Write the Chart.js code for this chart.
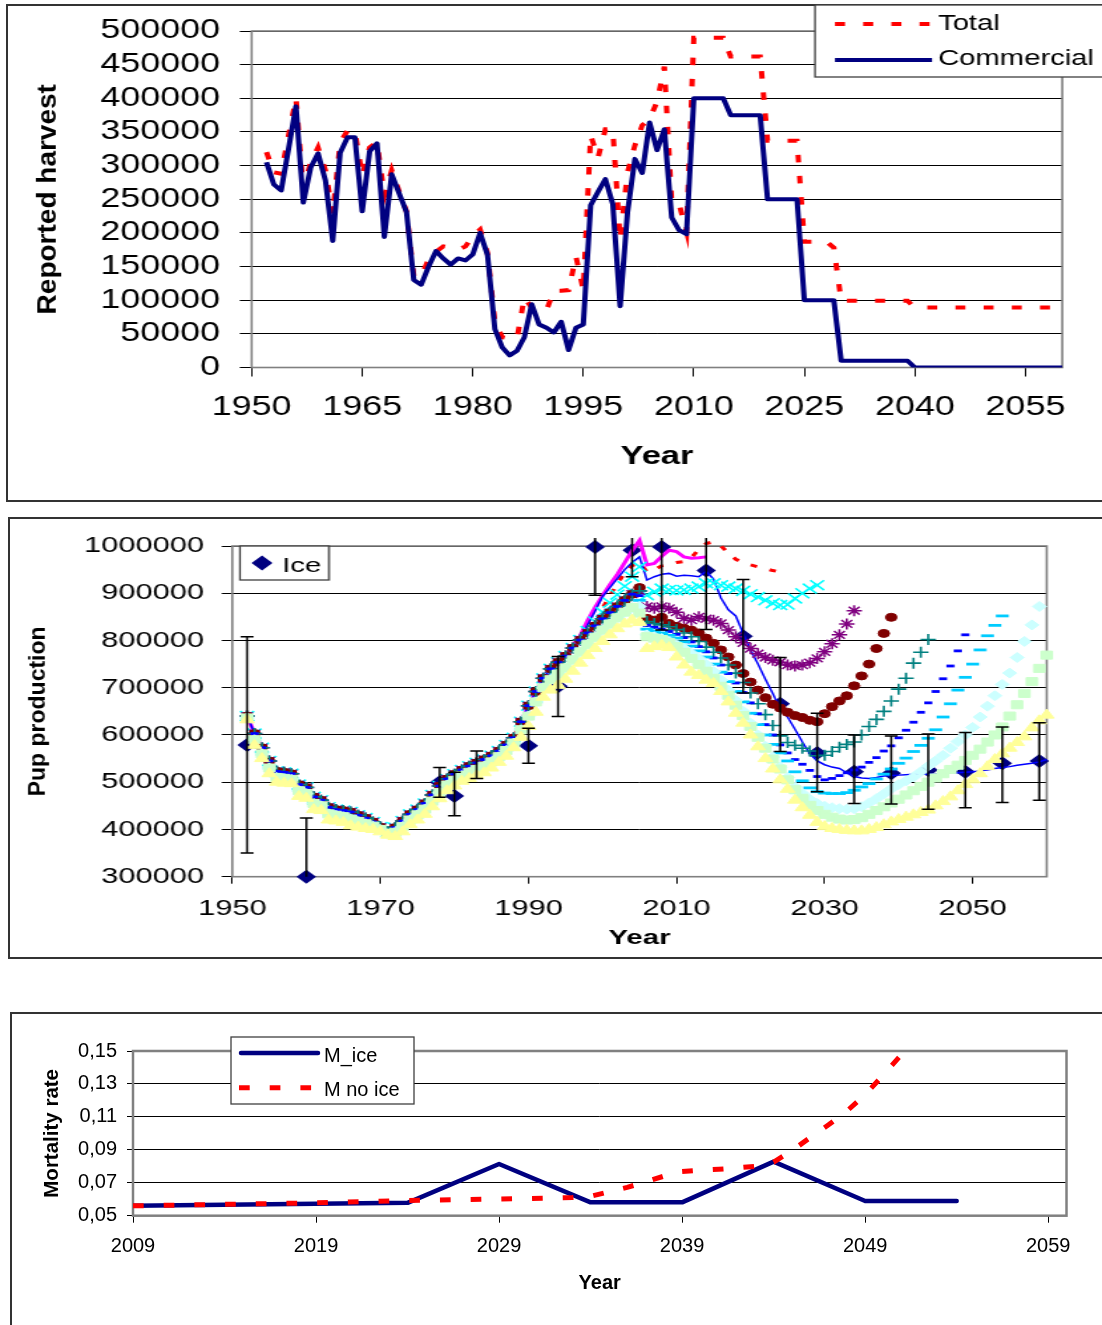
<!DOCTYPE html>
<html>
<head>
<meta charset="utf-8">
<title>Harvest, pup production and mortality</title>
<script src="https://cdn.jsdelivr.net/npm/chart.js@4.4.1/dist/chart.umd.min.js"></script>
<style>
  html, body { margin: 0; padding: 0; background: #fff; }
  body { position: relative; width: 1102px; height: 1325px; overflow: hidden; }
  .frame { position: absolute; border: 2px solid #333; box-sizing: border-box; }
  canvas { position: absolute; left: 0; }
</style>
</head>
<body>
<div class="frame" style="left:6px; top:4px; width:1120px; height:498px;"></div>
<div class="frame" style="left:8px; top:517px; width:1120px; height:442px;"></div>
<div class="frame" style="left:10px; top:1012px; width:1120px; height:340px;"></div>
<canvas id="harvestChart" width="829" height="505" style="top:0; width:1102px; height:505px;"></canvas>
<canvas id="pupChart" width="787" height="441" style="top:518px; width:1102px; height:441px;"></canvas>
<canvas id="mortalityChart" width="1102" height="312" style="top:1013px; width:1102px; height:312px;"></canvas>
<script>
const FONT = '"Liberation Sans", Arial, Helvetica, sans-serif';
Chart.defaults.font.family = FONT;
Chart.defaults.color = '#000';

/* ---------- Reported harvest ---------- */
const catchYears = Array.from({ length: 2060 - 1952 + 1 }, (_, i) => 1952 + i);
const commercialCatch = [
  305000, 272000, 263000, 325000, 388000, 245000, 297000, 318000, 278000, 188000,
  319000, 342000, 342000, 232000, 321000, 333000, 194000, 287000, 259000, 231000,
  130000, 123000, 150000, 173000, 162000, 153000, 162000, 159000, 168000, 200000,
  167000, 57000, 30000, 18000, 25000, 45000, 94000, 64000, 59000, 52000,
  68000, 26000, 59000, 64000, 241000, 261000, 280000, 243000, 91000, 231000,
  310000, 289000, 364000, 323000, 354000, 223000, 204000, 198000, 400000, 400000,
  400000, 400000, 400000, 375000, 375000, 375000, 375000, 375000, 250000, 250000,
  250000, 250000, 250000, 100000, 100000, 100000, 100000, 100000, 10000, 10000,
  10000, 10000, 10000, 10000, 10000, 10000, 10000, 10000, 0, 0,
  0, 0, 0, 0, 0, 0, 0, 0, 0, 0,
  0, 0, 0, 0, 0, 0, 0, 0, 0
];
const totalCatch = [
  320000, 290000, 288000, 345000, 400000, 265000, 305000, 327000, 293000, 228000,
  334000, 352000, 352000, 285000, 327000, 335000, 255000, 293000, 262000, 232000,
  136000, 135000, 161000, 172000, 180000, 178000, 175000, 180000, 195000, 205000,
  170000, 68000, 45000, 43000, 43000, 104000, 89000, 85000, 85000, 114000,
  114000, 115000, 165000, 115000, 345000, 312000, 354000, 354000, 190000, 290000,
  330000, 360000, 369000, 395000, 447000, 246000, 243000, 202000, 490000, 490000,
  490000, 490000, 490000, 462000, 462000, 462000, 462000, 462000, 337000, 337000,
  337000, 337000, 337000, 187000, 187000, 187000, 187000, 178000, 99000, 99000,
  99000, 99000, 99000, 99000, 99000, 99000, 99000, 99000, 89000, 89000,
  89000, 89000, 89000, 89000, 89000, 89000, 89000, 89000, 89000, 89000,
  89000, 89000, 89000, 89000, 89000, 89000, 89000, 89000, 89000
];
const harvestTicks = [1950, 1965, 1980, 1995, 2010, 2025, 2040, 2055];

/* ---------- Pup production ---------- */
const pupTicks = [1950, 1970, 1990, 2010, 2030, 2050];
const fitYears = Array.from({ length: 2004 - 1952 + 1 }, (_, i) => 1952 + i);
const fitUpper = [
  640000, 603000, 573000, 545000, 523000, 521000, 518000, 495000, 489000, 469000,
  462000, 447000, 442000, 440000, 437000, 430000, 424000, 416000, 405000, 395000,
  404000, 418000, 432000, 442000, 455000, 473000, 492000, 507000, 517000, 526000,
  534000, 541000, 548000, 556000, 566000, 579000, 594000, 628000, 662000, 692000,
  720000, 740000, 754000, 767000, 784000, 801000, 816000, 831000, 846000, 859000,
  872000, 885000, 898000
];
const fitMiddle = [
  636000, 590000, 560000, 530000, 510000, 508000, 506000, 482000, 476000, 455000,
  450000, 433000, 430000, 427000, 422000, 417000, 412000, 407000, 400000, 391000,
  394000, 406000, 420000, 431000, 443000, 460000, 478000, 494000, 504000, 514000,
  521000, 527000, 534000, 543000, 554000, 567000, 583000, 611000, 640000, 670000,
  700000, 717000, 729000, 742000, 759000, 776000, 792000, 807000, 822000, 835000,
  848000, 860000, 870000
];
const fitLower = [
  632000, 578000, 550000, 518000, 500000, 498000, 497000, 470000, 466000, 442000,
  440000, 420000, 418000, 415000, 408000, 405000, 402000, 400000, 395000, 388000,
  385000, 395000, 410000, 420000, 432000, 448000, 465000, 482000, 492000, 502000,
  508000, 514000, 520000, 530000, 542000, 555000, 573000, 595000, 618000, 648000,
  680000, 695000, 705000, 718000, 735000, 752000, 768000, 783000, 798000, 812000,
  825000, 835000, 843000
];

const runMagentaFrom = 1996;
const runMagenta = [790000, 810000, 843000, 870000, 895000, 918000, 940000, 965000, 990000, 1012000,
  960000, 963000, 978000, 991000, 988000, 977000, 974000, 975000, 977000];
const runRedFrom = 2000;
const runRed = [868000, 895000, 920000, 944000, 958000, 965000, 945000, 950000, 958000, 962000,
  965000, 967000, 975000, 993000, 1005000, 1009000, 1000000, 985000, 972000, 965000,
  960000, 956000, 952000, 948000, 945000];
const runBlueFrom = 1997;
const runBlue = [805000, 833000, 862000, 893000, 912000, 931000, 950000, 965000, 977000,
  928000, 935000, 940000, 942000, 936000, 938000, 937000, 935000, 946000,
  930000, 890000, 865000, 852000, 815000, 780000, 750000, 718000, 688000, 655000,
  638000, 612000, 585000, 560000, 545000, 537000, 532000, 529000, 520000, 512000,
  509000, 508000, 510000, 513000, 514000, 515000, 516000, 517000, 517000, 517000,
  517000, 518000, 519000, 520000, 521000, 522000, 524000, 526000, 529000, 531000,
  533000, 536000, 538000, 540000, 543000, 548000, 554000];
const runCyanXFrom = 1998;
const runCyanX = [820000, 840000, 860000, 880000, 897000, 915000, 935000, 956000,
  896000, 903000, 910000, 907000, 906000, 907000, 910000, 914000, 921000, 921000,
  917000, 914000, 910000, 905000, 898000, 892000, 885000, 879000, 875000, 876000,
  889000, 900000, 910000, 917000];
const runPurpleFrom = 2005;
const runPurple = [905000, 872000, 868000, 872000, 868000, 860000, 847000, 843000, 850000, 846000,
  843000, 836000, 822000, 808000, 795000, 783000, 772000, 764000, 758000, 754000,
  748000, 746000, 748000, 753000, 762000, 776000, 793000, 812000, 835000, 863000];
const runDarkRedFrom = 2005;
const runDarkRed = [912000, 847000, 843000, 849000, 836000, 830000, 826000, 822000, 816000, 805000,
  794000, 780000, 765000, 748000, 730000, 712000, 695000, 679000, 665000, 657000,
  648000, 641000, 637000, 631000, 628000, 645000, 660000, 672000, 683000, 704000,
  725000, 750000, 783000, 815000, 849000];
const runTealFrom = 2005;
const runTeal = [905000, 840000, 836000, 833000, 829000, 823000, 816000, 808000, 798000, 786000,
  775000, 763000, 748000, 731000, 711000, 689000, 666000, 643000, 620000, 598000,
  584000, 578000, 572000, 566000, 556000, 557000, 565000, 574000, 580000, 585000,
  600000, 618000, 633000, 650000, 672000, 697000, 720000, 752000, 775000, 802000];
const runBlueDashFrom = 2005;
const runBlueDash = [895000, 832000, 828000, 824000, 819000, 813000, 806000, 797000, 787000, 776000,
  763000, 748000, 730000, 710000, 690000, 668000, 645000, 622000, 600000, 579000,
  562000, 548000, 538000, 525000, 512000, 505000, 508000, 514000, 520000, 526000,
  532000, 542000, 552000, 566000, 577000, 594000, 610000, 627000, 648000, 668000,
  692000, 719000, 746000, 778000, 812000];
const runCyanDashFrom = 2005;
const runCyanDash = [885000, 824000, 820000, 816000, 811000, 805000, 797000, 788000, 778000, 765000,
  750000, 733000, 713000, 692000, 670000, 646000, 622000, 600000, 580000, 562000,
  545000, 522000, 503000, 488000, 480000, 477000, 476000, 476000, 478000, 483000,
  490000, 497000, 507000, 517000, 528000, 540000, 551000, 565000, 578000, 593000,
  611000, 638000, 666000, 695000, 722000, 750000, 780000, 810000, 832000, 852000];
const runPaleCyanFrom = 2005;
const runPaleCyan = [872000, 812000, 808000, 804000, 798000, 791000, 783000, 773000, 762000, 749000,
  734000, 716000, 695000, 673000, 650000, 625000, 600000, 576000, 553000, 532000,
  510000, 490000, 476000, 464000, 455000, 449000, 446000, 444000, 443000, 444000,
  448000, 456000, 465000, 475000, 486000, 495000, 503000, 511000, 522000, 534000,
  545000, 557000, 572000, 586000, 600000, 616000, 638000, 661000, 683000, 707000,
  731000, 764000, 798000, 833000, 872000];
const runPaleGreenFrom = 2005;
const runPaleGreen = [858000, 808000, 805000, 802000, 796000, 787000, 775000, 762000, 749000, 735000,
  720000, 703000, 684000, 663000, 641000, 618000, 595000, 572000, 549000, 528000,
  505000, 484000, 466000, 451000, 440000, 432000, 426000, 422000, 420000, 421000,
  425000, 432000, 440000, 448000, 456000, 464000, 473000, 482000, 491000, 500000,
  509000, 518000, 527000, 536000, 546000, 557000, 570000, 585000, 600000, 617000,
  640000, 664000, 688000, 713000, 741000, 769000];
const runYellowFrom = 2005;
const runYellow = [838000, 783000, 787000, 790000, 785000, 765000, 748000, 733000, 726000, 716000,
  709000, 692000, 670000, 646000, 625000, 600000, 575000, 550000, 528000, 505000,
  485000, 462000, 446000, 430000, 415000, 406000, 402000, 400000, 398000, 397000,
  397000, 400000, 404000, 410000, 416000, 421000, 426000, 431000, 436000, 441000,
  450000, 459000, 469000, 482000, 495000, 505000, 518000, 533000, 548000, 560000,
  572000, 584000, 596000, 615000, 630000, 642000];

const iceYears = [1952, 1960, 1978, 1980, 1983, 1990, 1994, 1999, 2004, 2008,
  2014, 2019, 2024, 2029, 2034, 2039, 2044, 2049, 2054, 2059];
const iceEstimate = [579000, 300000, 500000, 471000, 537000, 577000, 703000, 998000, 991000, 998000,
  948000, 809000, 666000, 562000, 522000, 519000, 526000, 522000, 540000, 545000];
const iceLow = [350000, 176000, 468000, 429000, 508000, 540000, 639000, 896000, 935000, 822000,
  823000, 689000, 565000, 480000, 455000, 454000, 443000, 446000, 457000, 462000];
const iceHigh = [808000, 424000, 531000, 521000, 566000, 614000, 766000, 1100000, 1047000, 1174000,
  1073000, 929000, 764000, 646000, 600000, 598000, 602000, 605000, 617000, 626000];

/* ---------- Mortality rate ---------- */
const mortTicks = [2009, 2019, 2029, 2039, 2049, 2059];
const mIceYears = [2009, 2014, 2019, 2024, 2029, 2034, 2039, 2044, 2049, 2054];
const mIce = [0.0561, 0.0567, 0.0573, 0.0578, 0.0814, 0.0581, 0.0581, 0.0828, 0.0589, 0.0589];
const mNoIceYears = [2009, 2014, 2019, 2024, 2029, 2033, 2034, 2035, 2036, 2037, 2038, 2039,
  2040, 2041, 2042, 2043, 2044, 2045, 2046, 2047, 2048, 2049, 2050, 2051];
const mNoIce = [0.0560, 0.0569, 0.0578, 0.0592, 0.0601, 0.0610, 0.0618, 0.0645, 0.0672, 0.0705, 0.0740, 0.0768,
  0.0776, 0.0782, 0.0790, 0.0800, 0.0825, 0.0895, 0.0975, 0.1052, 0.1135, 0.1235, 0.1355, 0.1480];

/* ---------- helpers ---------- */
const K1 = 1102 / 829;   // horizontal display stretch of the harvest canvas
const K2 = 1102 / 787;   // horizontal display stretch of the pup canvas

function pairs(xs, ys) { return xs.map((x, i) => ({ x, y: ys[i] })); }
function run(base, from, values) {
  const pts = [];
  fitYears.forEach((yr, i) => { if (yr < from) pts.push({ x: yr, y: base[i] }); });
  values.forEach((v, i) => pts.push({ x: from + i, y: v }));
  return pts;
}
function fixedTicks(list) { return s => { s.ticks = list.map(v => ({ value: v })); }; }

const frameAndTitles = {
  id: 'frameAndTitles',
  beforeDatasetsDraw(chart, args, o) {
    const c = chart.ctx, a = chart.chartArea;
    c.save();
    c.strokeStyle = '#808080';
    c.lineWidth = o.frameWidth;
    c.strokeRect(a.left, a.top, a.right - a.left, a.bottom - a.top);
    c.restore();
  },
  afterDraw(chart, args, o) {
    const c = chart.ctx, a = chart.chartArea;
    c.save();
    c.fillStyle = '#000';
    c.textAlign = 'center';
    c.textBaseline = 'middle';
    c.font = o.xFont;
    c.fillText(o.xText, (a.left + a.right) / 2, o.xTitleY);
    c.translate(o.yTitleX, (a.top + a.bottom) / 2);
    c.scale(1 / o.stretch, 1);
    c.rotate(-Math.PI / 2);
    c.font = o.yFont;
    c.fillText(o.yText, 0, 0);
    c.restore();
  }
};

const boxLegend = {
  id: 'boxLegend',
  afterDraw(chart, args, o) {
    const c = chart.ctx;
    c.save();
    c.fillStyle = '#fff';
    c.fillRect(o.box.x, o.box.y, o.box.w, o.box.h);
    c.strokeStyle = '#404040';
    c.lineWidth = 1.3;
    c.strokeRect(o.box.x, o.box.y, o.box.w, o.box.h);
    o.rows.forEach(r => {
      const ds = chart.data.datasets[r.index];
      c.save();
      if (r.marker) {
        const rad = r.size;
        c.fillStyle = ds.pointBackgroundColor;
        c.beginPath();
        c.moveTo(r.x0 - rad, r.y); c.lineTo(r.x0, r.y - rad);
        c.lineTo(r.x0 + rad, r.y); c.lineTo(r.x0, r.y + rad);
        c.closePath(); c.fill();
      } else {
        c.strokeStyle = ds.borderColor;
        c.lineWidth = ds.borderWidth;
        c.setLineDash(ds.borderDash || []);
        c.lineCap = ds.borderDash ? 'butt' : (ds.borderCapStyle || 'butt');
        c.beginPath(); c.moveTo(r.x0, r.y); c.lineTo(r.x1, r.y); c.stroke();
      }
      c.restore();
      c.font = o.font;
      c.fillStyle = '#000';
      c.textAlign = 'left';
      c.textBaseline = 'alphabetic';
      c.fillText(ds.label, r.tx, r.ty);
    });
    c.restore();
  }
};

const errorBars = {
  id: 'errorBars',
  afterDatasetsDraw(chart, args, o) {
    const xs = chart.scales.x, ys = chart.scales.y, c = chart.ctx, a = chart.chartArea;
    c.save();
    c.beginPath();
    c.rect(0, a.top - o.overTop, chart.width, a.bottom - a.top + o.overTop);
    c.clip();
    c.strokeStyle = '#000';
    c.lineWidth = o.width;
    o.years.forEach((yr, i) => {
      const x = xs.getPixelForValue(yr);
      const lo = ys.getPixelForValue(o.low[i]);
      const hi = ys.getPixelForValue(o.high[i]);
      c.beginPath();
      c.moveTo(x, lo); c.lineTo(x, hi);
      c.moveTo(x - o.cap, lo); c.lineTo(x + o.cap, lo);
      c.moveTo(x - o.cap, hi); c.lineTo(x + o.cap, hi);
      c.stroke();
    });
    c.restore();
  }
};

const common = { responsive: false, devicePixelRatio: 1, animation: false, events: [] };

/* ---------- chart 1: reported harvest ---------- */
new Chart(document.getElementById('harvestChart'), {
  type: 'line',
  data: {
    datasets: [
      { label: 'Commercial', data: pairs(catchYears, commercialCatch), borderColor: '#000080',
        borderWidth: 4, pointRadius: 0, borderJoinStyle: 'round', order: 0 },
      { label: 'Total', data: pairs(catchYears, totalCatch), borderColor: '#FF0000',
        borderWidth: 4, borderDash: [7.5, 13.7], pointRadius: 0, order: 1 }
    ]
  },
  options: {
    ...common,
    layout: { padding: { left: 0, right: 29.9, top: 27.5, bottom: 0 } },
    plugins: {
      legend: { display: false }, tooltip: { enabled: false },
      frameAndTitles: {
        frameWidth: 1.6, stretch: K1,
        xText: 'Year', xFont: 'bold 26px ' + FONT, xTitleY: 457,
        yText: 'Reported harvest', yFont: 'bold 28px ' + FONT, yTitleX: 48 / K1
      },
      boxLegend: {
        font: '22px ' + FONT,
        box: { x: 815 / K1, y: 5, w: 240, h: 72 },
        rows: [
          { index: 1, x0: 835 / K1, x1: 930 / K1, y: 24, tx: 938 / K1, ty: 29.5 },
          { index: 0, x0: 835 / K1, x1: 932 / K1, y: 60, tx: 938 / K1, ty: 65 }
        ]
      }
    },
    scales: {
      x: {
        type: 'linear', min: 1950, max: 2060,
        afterBuildTicks: fixedTicks(harvestTicks),
        afterFit: s => { s.height = 137.5; },
        grid: { drawOnChartArea: false, tickLength: 9, tickColor: '#000' },
        border: { display: false },
        ticks: { font: { size: 27 }, padding: 15, autoSkip: false, maxRotation: 0, minRotation: 0,
          callback: v => String(v) }
      },
      y: {
        min: 0, max: 500000,
        afterFit: s => { s.width = 251.7 / K1; },
        grid: { color: '#000', tickColor: '#000', tickLength: 9, lineWidth: 1 },
        border: { display: false },
        ticks: { stepSize: 50000, font: { size: 27 }, padding: 14.8, autoSkip: false,
          callback: v => String(v) }
      }
    }
  },
  plugins: [frameAndTitles, boxLegend]
});

/* ---------- chart 2: pup production ---------- */
new Chart(document.getElementById('pupChart'), {
  type: 'line',
  data: {
    datasets: [
      { label: 'Ice', data: pairs(iceYears, iceEstimate), showLine: false, pointStyle: 'rectRot',
        pointRadius: 7, pointBackgroundColor: '#000080', pointBorderColor: '#000080', pointBorderWidth: 0,
        order: 20, clip: false },
      { label: 'Run 1', data: run(fitUpper, runMagentaFrom, runMagenta), borderColor: '#FF00FF',
        borderWidth: 3, pointRadius: 0, order: 12, clip: false },
      { label: 'Run 2', data: run(fitUpper, runRedFrom, runRed), borderColor: '#FF0000',
        borderWidth: 3, borderDash: [4.8, 9.5], pointRadius: 0, order: 11, clip: false },
      { label: 'Run 3', data: run(fitUpper, runBlueFrom, runBlue), borderColor: '#0000FF',
        borderWidth: 1.5, pointRadius: 0, order: 10, clip: false },
      { label: 'Run 4', data: run(fitUpper, runCyanXFrom, runCyanX), showLine: false, pointStyle: 'crossRot',
        pointRadius: 7, pointBorderColor: '#00FFFF', pointBackgroundColor: '#00FFFF', pointBorderWidth: 1.6,
        order: 9, clip: false },
      { label: 'Run 5', data: run(fitUpper, runPurpleFrom, runPurple), showLine: false, pointStyle: 'star',
        pointRadius: 5.5, pointBorderColor: '#800080', pointBackgroundColor: '#800080', pointBorderWidth: 1.5,
        order: 8, clip: false },
      { label: 'Run 6', data: run(fitUpper, runDarkRedFrom, runDarkRed), showLine: false, pointStyle: 'circle',
        pointRadius: 4, pointBorderColor: '#800000', pointBackgroundColor: '#800000', pointBorderWidth: 1,
        order: 7, clip: false },
      { label: 'Run 7', data: run(fitUpper, runTealFrom, runTeal), showLine: false, pointStyle: 'cross',
        pointRadius: 5.5, pointBorderColor: '#008080', pointBackgroundColor: '#008080', pointBorderWidth: 1.6,
        order: 6, clip: false },
      { label: 'Run 8', data: run(fitUpper, runBlueDashFrom, runBlueDash), showLine: false, pointStyle: 'line',
        pointRadius: 2.9, pointBorderColor: '#0000FF', pointBackgroundColor: '#0000FF', pointBorderWidth: 2.8,
        order: 5, clip: false },
      { label: 'Run 9', data: run(fitMiddle, runCyanDashFrom, runCyanDash), showLine: false, pointStyle: 'line',
        pointRadius: 4.6, pointBorderColor: '#00CCFF', pointBackgroundColor: '#00CCFF', pointBorderWidth: 2.8,
        order: 4, clip: false },
      { label: 'Run 10', data: run(fitMiddle, runPaleCyanFrom, runPaleCyan), showLine: false, pointStyle: 'rectRot',
        pointRadius: 5, pointBorderColor: '#CCFFFF', pointBackgroundColor: '#CCFFFF', pointBorderWidth: 1,
        order: 3, clip: false },
      { label: 'Run 11', data: run(fitMiddle, runPaleGreenFrom, runPaleGreen), showLine: false, pointStyle: 'rect',
        pointRadius: 5.7, pointBorderColor: '#CCFFCC', pointBackgroundColor: '#CCFFCC', pointBorderWidth: 1,
        order: 2, clip: false },
      { label: 'Run 12', data: run(fitLower, runYellowFrom, runYellow), showLine: false, pointStyle: 'triangle',
        pointRadius: 6, pointBorderColor: '#FFFF99', pointBackgroundColor: '#FFFF99', pointBorderWidth: 1,
        order: 1, clip: false }
    ]
  },
  options: {
    ...common,
    layout: { padding: { left: 0, right: 787 - 1046.7 / K2, top: 28, bottom: 0 } },
    plugins: {
      legend: { display: false }, tooltip: { enabled: false },
      frameAndTitles: {
        frameWidth: 1.6, stretch: K2,
        xText: 'Year', xFont: 'bold 21px ' + FONT, xTitleY: 420,
        yText: 'Pup production', yFont: 'bold 23px ' + FONT, yTitleX: 38 / K2
      },
      boxLegend: {
        font: '21px ' + FONT,
        box: { x: 240 / K2, y: 28, w: 89 / K2, h: 34 },
        rows: [ { index: 0, marker: true, size: 7.5, x0: 262 / K2, y: 45, tx: 282 / K2, ty: 53.5 } ]
      },
      errorBars: { years: iceYears, low: iceLow, high: iceHigh, cap: 4.6, width: 1.5, overTop: 8 }
    },
    scales: {
      x: {
        type: 'linear', min: 1950, max: 2060,
        afterBuildTicks: fixedTicks(pupTicks),
        afterFit: s => { s.height = 441 - 358.7; },
        grid: { drawOnChartArea: false, tickLength: 7, tickColor: '#000' },
        border: { display: false },
        ticks: { font: { size: 22 }, padding: 12.3, autoSkip: false, maxRotation: 0, minRotation: 0,
          callback: v => String(v) }
      },
      y: {
        min: 300000, max: 1000000,
        afterFit: s => { s.width = 232.3 / K2; },
        grid: { color: '#000', tickColor: '#000', tickLength: 7.6, lineWidth: 1 },
        border: { display: false },
        ticks: { stepSize: 100000, font: { size: 22 }, padding: 12.6, autoSkip: false,
          callback: v => String(v) }
      }
    }
  },
  plugins: [frameAndTitles, errorBars, boxLegend]
});

/* ---------- chart 3: mortality rate ---------- */
new Chart(document.getElementById('mortalityChart'), {
  type: 'line',
  data: {
    datasets: [
      { label: 'M_ice', data: pairs(mIceYears, mIce), borderColor: '#000080', borderWidth: 4.5,
        borderCapStyle: 'round', borderJoinStyle: 'round', pointRadius: 0, order: 1 },
      { label: 'M no ice', data: pairs(mNoIceYears, mNoIce), borderColor: '#FF0000', borderWidth: 5,
        borderDash: [10.7, 20], pointRadius: 0, order: 0 }
    ]
  },
  options: {
    ...common,
    layout: { padding: { left: 0, right: 35.5, top: 38, bottom: 0 } },
    plugins: {
      legend: { display: false }, tooltip: { enabled: false },
      frameAndTitles: {
        frameWidth: 2.5, stretch: 1,
        xText: 'Year', xFont: 'bold 20px ' + FONT, xTitleY: 270,
        yText: 'Mortality rate', yFont: 'bold 20.5px ' + FONT, yTitleX: 52
      },
      boxLegend: {
        font: '20px ' + FONT,
        box: { x: 231, y: 24, w: 183, h: 67 },
        rows: [
          { index: 0, x0: 241, x1: 318, y: 40, tx: 324, ty: 48.5 },
          { index: 1, x0: 239, x1: 313, y: 74.7, tx: 324, ty: 82.5 }
        ]
      }
    },
    scales: {
      x: {
        type: 'linear', min: 2009, max: 2060,
        afterBuildTicks: fixedTicks(mortTicks),
        afterFit: s => { s.height = 312 - 202.7; },
        grid: { drawOnChartArea: false, tickLength: 7, tickColor: '#000' },
        border: { display: false },
        ticks: { font: { size: 20 }, padding: 12, autoSkip: false, maxRotation: 0, minRotation: 0,
          callback: v => String(v) }
      },
      y: {
        min: 0.05, max: 0.15,
        afterFit: s => { s.width = 133; },
        grid: { color: '#000', tickColor: '#000', tickLength: 6, lineWidth: 1 },
        border: { display: false },
        ticks: { stepSize: 0.02, font: { size: 20 }, padding: 10, autoSkip: false,
          callback: v => v.toFixed(2).replace('.', ',') }
      }
    }
  },
  plugins: [frameAndTitles, boxLegend]
});
</script>
</body>
</html>
